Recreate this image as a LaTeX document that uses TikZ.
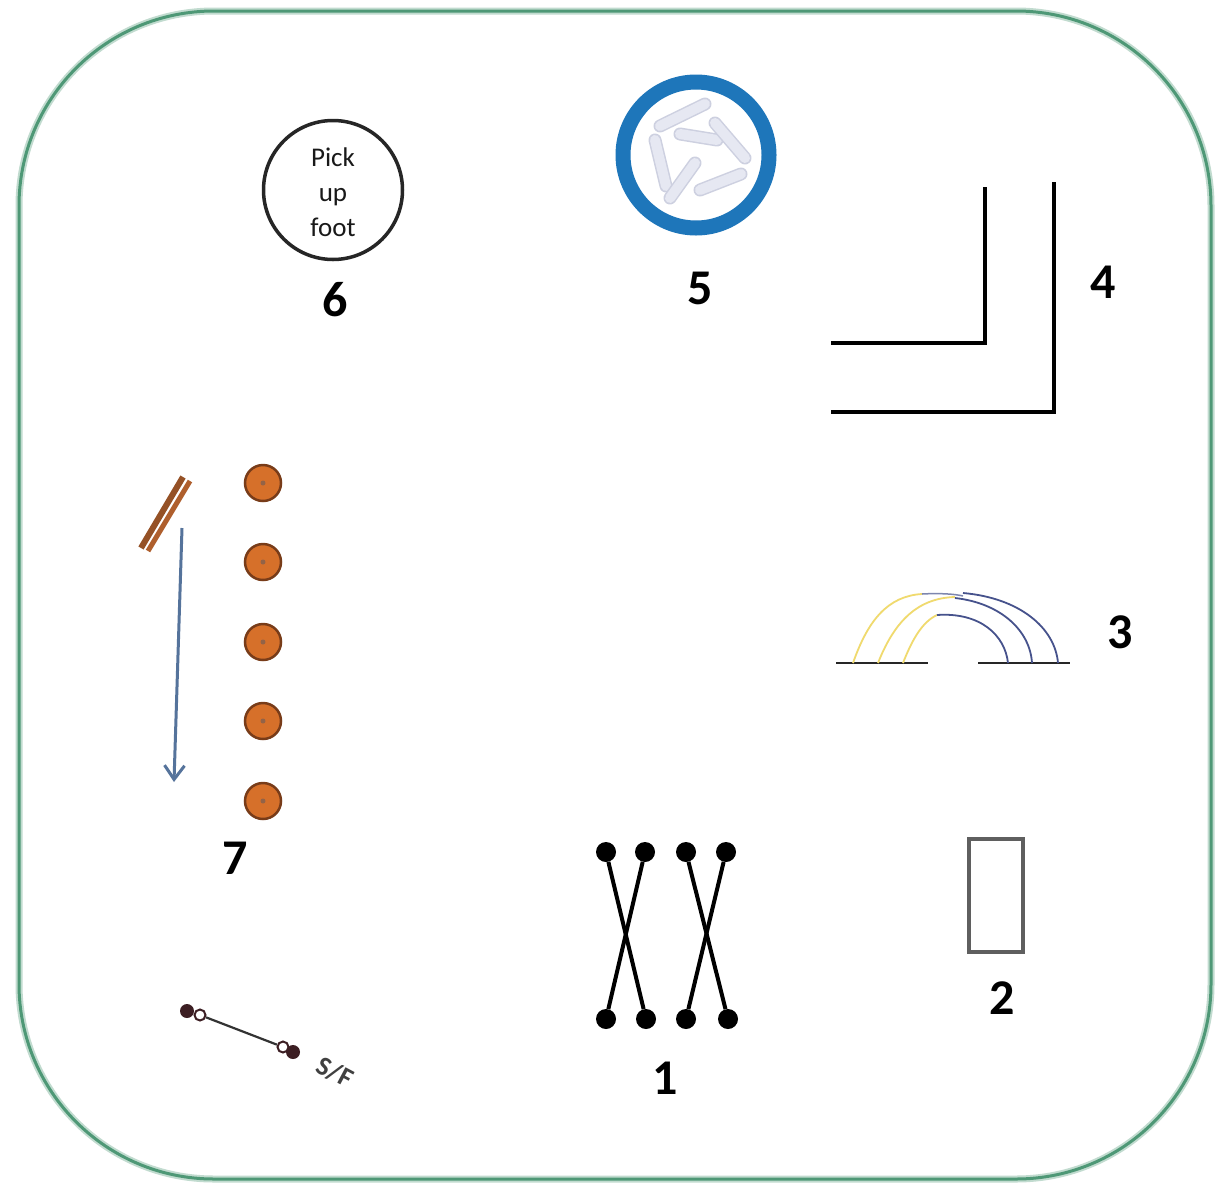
\documentclass[tikz,border=0pt]{standalone}
\usepackage{fontspec}
\setmainfont{Carlito}
\usetikzlibrary{arrows.meta}
\definecolor{bordergreen}{RGB}{78,152,118}
\definecolor{ringblue}{RGB}{30,118,186}
\definecolor{bottle}{RGB}{230,232,242}
\definecolor{bottleedge}{RGB}{205,208,224}
\definecolor{arcyellow}{RGB}{240,218,110}
\definecolor{arcblue}{RGB}{70,82,140}
\definecolor{coneorange}{RGB}{214,112,42}
\definecolor{conebrown}{RGB}{120,60,25}
\definecolor{stickbrown}{RGB}{175,95,45}
\definecolor{arrowblue}{RGB}{85,115,155}
\definecolor{sfdark}{RGB}{60,30,35}
\definecolor{rectgrey}{RGB}{95,95,95}
\tikzset{
  numlabel/.style={font=\fontsize{50}{58}\selectfont\bfseries, inner sep=0pt},
  blackline/.style={line width=4pt, black},
  dotnode/.style={circle, fill=black, minimum size=20pt, inner sep=0pt},
  cone/.style={circle, fill=coneorange, draw=conebrown, line width=2.5pt, minimum size=36pt, inner sep=0pt},
  bottleline/.style={line width=13pt, bottleedge, line cap=round},
  bottlein/.style={line width=10pt, bottle, line cap=round},
}
\begin{document}
\begin{tikzpicture}[x=1pt,y=-1pt]
\useasboundingbox (0,0) rectangle (1223,1184);
\fill[white] (0,0) rectangle (1223,1184);
% border
\draw[bordergreen!35, line width=7pt, rounded corners=195pt] (19,11) rectangle (1211,1179);
\draw[bordergreen, line width=3pt, rounded corners=195pt] (19,11) rectangle (1211,1179);

% item 6
\node[circle, draw=black!85, line width=3.5pt, minimum size=139pt, inner sep=0pt] (c6) at (333,190) {};
\node[font=\fontsize{27}{35}\selectfont, text=black!90, align=center, inner sep=0pt] (t6) at (333,192) {Pick\\up\\foot};
\node[numlabel] (n6) at (335,300) {6};

% item 5
\node[circle, draw=ringblue, line width=15pt, minimum size=146pt, inner sep=0pt] (c5) at (696,155) {};
\foreach \a/\b in {{(660,126)}/{(705,104)}, {(680,134)}/{(717,140)}, {(715,123)}/{(745,158)}, {(655,140)}/{(666,186)}, {(670,198)}/{(695,163)}, {(700,190)}/{(741,174)}}{
  \draw[bottleline] \a -- \b;
  \draw[bottlein] \a -- \b;
}
\node[numlabel] (n5) at (700,288) {5};

% item 4
\coordinate (l1a) at (985,187);
\coordinate (l1b) at (985,343);
\coordinate (l1c) at (831,343);
\coordinate (l2a) at (1054,182);
\coordinate (l2b) at (1054,412);
\coordinate (l2c) at (831,412);
\draw[blackline] (l1a) -- (l1b) -- (l1c);
\draw[blackline] (l2a) -- (l2b) -- (l2c);
\node[numlabel] (n4) at (1103,282) {4};

% item 3
\coordinate (b1a) at (836,663);
\coordinate (b1b) at (928,663);
\coordinate (b2a) at (978,663);
\coordinate (b2b) at (1070,663);
\draw[black!85, line width=2pt] (b1a) -- (b1b);
\draw[black!85, line width=2pt] (b2a) -- (b2b);
\draw[arcyellow, line width=1.8pt] (853,663) .. controls (868,620) and (888,596) .. (922,594);
\draw[arcblue!70, line width=1.5pt] (922,594) .. controls (940,593) and (955,594) .. (963,596);
\draw[arcblue, line width=1.8pt] (963,593) .. controls (1020,598) and (1055,628) .. (1058,663);
\draw[arcyellow, line width=1.8pt] (878,663) .. controls (893,625) and (915,598) .. (955,597);
\draw[arcblue, line width=1.8pt] (955,598) .. controls (1000,603) and (1030,630) .. (1032,663);
\draw[arcyellow, line width=1.8pt] (903,663) .. controls (912,640) and (922,622) .. (937,615);
\draw[arcblue, line width=1.8pt] (937,615) .. controls (980,612) and (1005,635) .. (1008,663);
\node[numlabel] (n3) at (1120,632) {3};

% item 7
\foreach \i/\y in {1/483, 2/562, 3/642, 4/721, 5/801}{
  \node[cone] (cone\i) at (263,\y) {};
  \fill[conebrown!80] (263,\y) circle (2.5pt);
}
\coordinate (s1a) at (141,548);
\coordinate (s1b) at (183,477);
\coordinate (s2a) at (148,551);
\coordinate (s2b) at (190,481);
\draw[stickbrown!85!black, line width=6pt] (s1a) -- (s1b);
\draw[stickbrown, line width=5pt] (s2a) -- (s2b);
\coordinate (ar1) at (182,528);
\coordinate (ar2) at (174,782);
\draw[arrowblue, line width=3pt, -{Straight Barb[length=14pt,width=20pt,line width=3pt]}] (ar1) -- (ar2);
\node[numlabel] (n7) at (235,858) {7};

% S/F
\node[circle, fill=sfdark, minimum size=14pt, inner sep=0pt] (sf1) at (187,1011) {};
\node[circle, fill=sfdark, minimum size=14pt, inner sep=0pt] (sf4) at (293,1052) {};
\node[circle, draw=sfdark, fill=white, line width=2pt, minimum size=11pt, inner sep=0pt] (sf2) at (200,1015) {};
\node[circle, draw=sfdark, fill=white, line width=2pt, minimum size=11pt, inner sep=0pt] (sf3) at (283,1047) {};
\draw[black!80, line width=2.2pt] (sf2) -- (sf3);
\node[font=\fontsize{27}{32}\selectfont\bfseries, text=black!75, rotate=-28, inner sep=0pt] (sflabel) at (335,1072) {S/F};

% item 1
\foreach \i/\x in {1/606, 2/645, 3/686, 4/726}{
  \node[dotnode] (t\i) at (\x,852) {};
}
\foreach \i/\x in {1/606, 2/646, 3/686, 4/728}{
  \node[dotnode] (b\i) at (\x,1019) {};
}
\draw[black, line width=4pt] (t1) -- (b2);
\draw[black, line width=4pt] (t2) -- (b1);
\draw[black, line width=4pt] (t3) -- (b4);
\draw[black, line width=4pt] (t4) -- (b3);
\node[numlabel] (n1) at (665,1078) {1};

% item 2
\node[draw=rectgrey, line width=4pt, minimum width=54pt, minimum height=113pt, inner sep=0pt] (r2) at (996,895) {};
\node[numlabel] (n2) at (1002,998) {2};
\end{tikzpicture}
\end{document}
